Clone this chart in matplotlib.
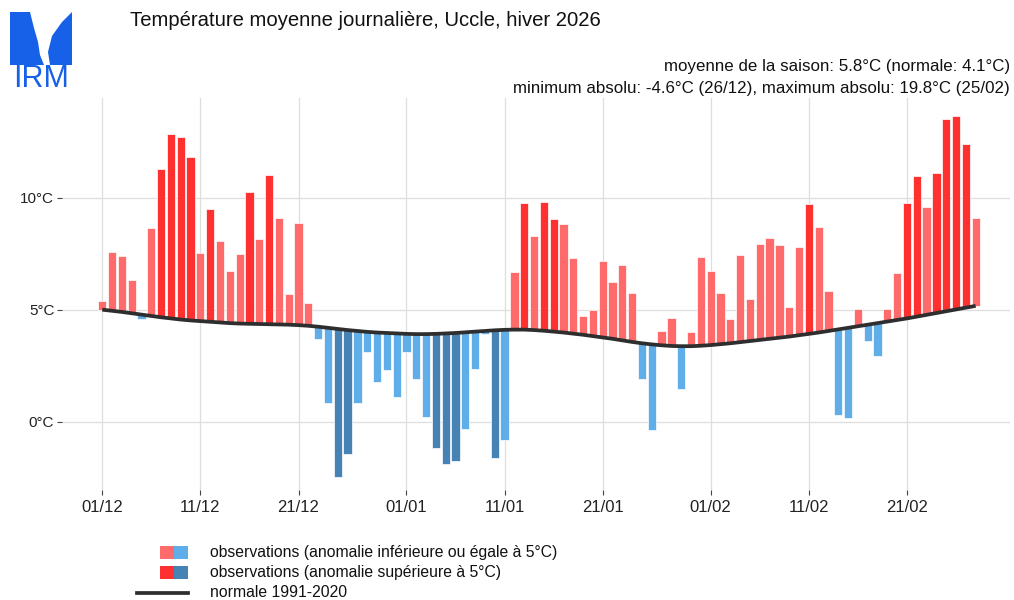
import matplotlib
matplotlib.use("Agg")
import matplotlib.pyplot as plt
from matplotlib.patches import Rectangle, Polygon
from matplotlib.lines import Line2D

plt.rcParams['font.family'] = ['Liberation Sans', 'DejaVu Sans']

# ---------------- data ----------------
temperatures = [
    5.40, 7.56, 7.41, 6.34, 4.60, 8.66, 11.27, 12.83, 12.72, 11.83,
    7.52, 9.50, 8.05, 6.71, 7.49, 10.25, 8.14, 11.03, 9.11, 5.69,
    8.86, 5.31, 3.71, 0.82, -2.46, -1.44, 0.82, 3.13, 1.79, 2.31,
    1.12, 3.10, 1.89, 0.22, -1.17, -1.90, -1.74, -0.33, 2.35, 3.90,
    -1.64, -0.82, 6.70, 9.78, 8.29, 9.82, 9.05, 8.81, 7.32, 4.73,
    5.00, 7.19, 6.25, 7.01, 5.73, 1.92, -0.36, 4.06, 4.63, 1.46,
    4.00, 7.37, 6.73, 5.73, 4.58, 7.44, 5.49, 7.93, 8.20, 7.87,
    5.12, 7.80, 9.72, 8.69, 5.82, 0.31, 0.18, 5.02, 3.60, 2.95,
    5.02, 6.62, 9.78, 10.97, 9.58, 11.10, 13.50, 13.65, 12.41, 9.08,
]
normals = [
    5.00, 4.95, 4.90, 4.84, 4.78, 4.72, 4.66, 4.61, 4.56, 4.52,
    4.49, 4.46, 4.43, 4.40, 4.38, 4.37, 4.36, 4.35, 4.34, 4.33,
    4.31, 4.28, 4.24, 4.19, 4.14, 4.09, 4.05, 4.01, 3.98, 3.96,
    3.94, 3.92, 3.91, 3.91, 3.92, 3.94, 3.96, 3.99, 4.02, 4.05,
    4.08, 4.10, 4.11, 4.11, 4.09, 4.06, 4.02, 3.98, 3.93, 3.88,
    3.82, 3.76, 3.70, 3.63, 3.56, 3.50, 3.45, 3.41, 3.38, 3.37,
    3.37, 3.39, 3.42, 3.46, 3.50, 3.55, 3.60, 3.65, 3.70, 3.75,
    3.80, 3.86, 3.92, 3.98, 4.05, 4.12, 4.19, 4.26, 4.33, 4.40,
    4.47, 4.54, 4.61, 4.69, 4.77, 4.85, 4.93, 5.01, 5.09, 5.17,
]
x_tick_positions = [0, 10, 20, 31, 41, 51, 62, 72, 82]
x_tick_labels = ["01/12", "11/12", "21/12", "01/01", "11/01", "21/01",
                 "01/02", "11/02", "21/02"]
y_ticks = [0, 5, 10]
y_tick_labels = ["0°C", "5°C", "10°C"]

title = "Température moyenne journalière, Uccle, hiver 2026"
subtitle1 = "moyenne de la saison: 5.8°C (normale: 4.1°C)"
subtitle2 = "minimum absolu: -4.6°C (26/12), maximum absolu: 19.8°C (25/02)"
legend_labels = ["observations (anomalie inférieure ou égale à 5°C)",
                 "observations (anomalie supérieure à 5°C)",
                 "normale 1991-2020"]

RED_LIGHT = "#ff6a6a"
RED_DARK = "#ff3030"
BLUE_LIGHT = "#5faeea"
BLUE_DARK = "#4682b4"
LINE_COL = "#2e2e2e"

W, H = 1014, 600
fig = plt.figure(figsize=(W / 100, H / 100), dpi=100)


def fx(px):
    return px / W


def fy(py):
    return 1 - py / H


ax = fig.add_axes([fx(62), fy(490), fx(1010) - fx(62), fy(98) - fy(490)])

days = list(range(len(temperatures)))
colors = []
for t, n in zip(temperatures, normals):
    a = t - n
    if a > 5:
        colors.append(RED_DARK)
    elif a >= 0:
        colors.append(RED_LIGHT)
    elif a < -5:
        colors.append(BLUE_DARK)
    else:
        colors.append(BLUE_LIGHT)

heights = [t - n for t, n in zip(temperatures, normals)]
ax.bar(days, heights, bottom=normals, width=0.84, color=colors,
       edgecolor="white", linewidth=0.5, zorder=2)
ax.plot(days, normals, color=LINE_COL, linewidth=2.7, zorder=3,
        solid_capstyle="butt")

ax.set_xlim(-4.1, 92.5)
ax.set_ylim(-3.05, 14.45)
ax.set_xticks(x_tick_positions)
ax.set_xticklabels(x_tick_labels, fontsize=12, color="#222222")
ax.set_yticks(y_ticks)
ax.set_yticklabels(y_tick_labels, fontsize=11, color="#222222")
ax.tick_params(axis="both", length=3.5, width=0.8, color="#444444")
ax.tick_params(axis="y", pad=2)
ax.tick_params(axis="x", pad=4)
ax.grid(True, color="#dedede", linewidth=0.9, zorder=0)
ax.set_axisbelow(True)
for s in ax.spines.values():
    s.set_visible(False)

# ---------------- titles ----------------
fig.text(fx(130), fy(21), title, fontsize=14.6, color="#111111", va="center", ha="left")
fig.text(fx(1010), fy(66), subtitle1, fontsize=12.2, color="#111111", va="center", ha="right")
fig.text(fx(1010), fy(89), subtitle2, fontsize=12.2, color="#111111", va="center", ha="right")

# ---------------- logo ----------------
LOGO = "#1760e8"
left_shape = [(10, 12), (30, 12), (34, 28), (38, 42), (40, 55), (44, 65), (10, 65)]
right_shape = [(72, 12), (72, 65), (50, 65), (48, 52), (52, 36), (62, 22)]
fig.add_artist(Polygon([(fx(a), fy(b)) for a, b in left_shape], closed=True,
                       transform=fig.transFigure, facecolor=LOGO, edgecolor="none"))
fig.add_artist(Polygon([(fx(a), fy(b)) for a, b in right_shape], closed=True,
                       transform=fig.transFigure, facecolor=LOGO, edgecolor="none"))
fig.text(fx(41), fy(79), "IRM", fontsize=22, color=LOGO, ha="center", va="center")

# ---------------- legend ----------------
def rect(x0, y0, x1, y1, c):
    fig.add_artist(Rectangle((fx(x0), fy(y1)), fx(x1) - fx(x0), fy(y0) - fy(y1),
                             transform=fig.transFigure, facecolor=c, edgecolor="none"))

rect(160, 546, 174, 559, RED_LIGHT)
rect(174, 546, 188, 559, BLUE_LIGHT)
rect(160, 566, 174, 579, RED_DARK)
rect(174, 566, 188, 579, BLUE_DARK)
fig.add_artist(Line2D([fx(137), fx(188)], [fy(593), fy(593)], transform=fig.transFigure,
                      color=LINE_COL, linewidth=2.7))
for yy, lab in zip([552.5, 572.5, 592.5], legend_labels):
    fig.text(fx(210), fy(yy), lab, fontsize=11.3, color="#111111", va="center", ha="left")

fig.savefig("out.png", dpi=100)
